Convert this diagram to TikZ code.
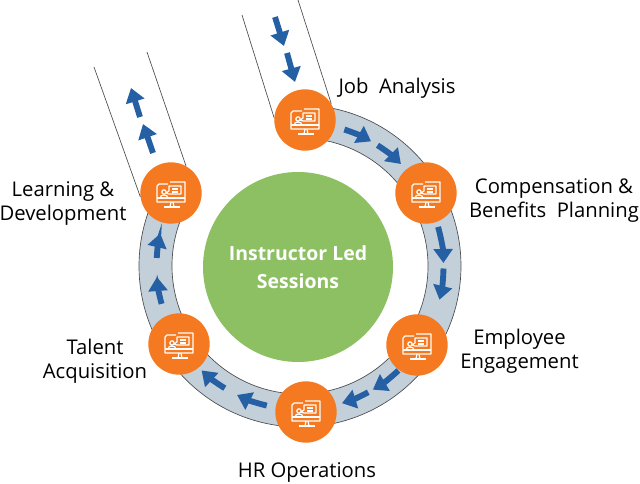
\documentclass[tikz,border=0pt]{standalone}
\usepackage{fontspec}
\setmainfont{Open Sans}
\usepackage{xcolor}
\usetikzlibrary{arrows.meta,calc,positioning}
\definecolor{ringgray}{HTML}{C3CFD9}
\definecolor{flowblue}{HTML}{2660A4}
\definecolor{stageorange}{HTML}{F47920}
\definecolor{hubgreen}{HTML}{8DC063}
\tikzset{
  stage/.style={circle,fill=stageorange,minimum size=46pt,inner sep=0pt},
  stagelabel/.style={align=center,font=\fontsize{15.2pt}{18pt}\selectfont,text=black},
  flowarrow/.style={draw=flowblue,line width=4.4pt,-{Triangle[length=10.5pt,width=14pt]}},
  railline/.style={draw=black!70,line width=0.5pt},
  pics/screenicon/.style={code={
      \begin{scope}[draw=white,line width=0.9pt,line join=round]
        \draw (-3,9) -- (-12,9) -- (-14,7) -- (-14,-9) -- (14,-9) -- (14,11) -- (-1,11);
        \draw (-14,-5) -- (14,-5);
        \draw (0,-9) -- (-1,-14) (2,-9) -- (3,-14);
        \draw (-7,-14) -- (9,-14);
        \draw (-7,1) circle (2.2);
        \draw (-11,-5) .. controls (-11,-1) and (-3,-1) .. (-3,-5);
        \draw[fill=stageorange] (-2,7) -- (-2,2) -- (-5,0) -- (-2,-1) -- (10,-1) -- (10,7) -- cycle;
        \draw (1,4) -- (7,4) (1,1) -- (7,1);
      \end{scope}
  }}
}
\begin{document}
\begin{tikzpicture}[x=0.75pt,y=0.75pt]
  \useasboundingbox (0,0) rectangle (640,483);
  \coordinate (hub) at (300,217);
  % ring
  \draw[fill=ringgray,draw=black!70,line width=0.5pt]
    ($(hub)+(88:161)$) arc (88:-209.5:161) -- ($(hub)+(-209.5:128)$) arc (-209.5:88:128) -- cycle;
  \node[circle,fill=hubgreen,minimum size=142.5pt,inner sep=0pt,text=white,align=center,
    font=\fontsize{14.6pt}{21pt}\selectfont\bfseries] (center) at (298,216) {Instructor Led\\Sessions};
  % stages
  \node[stage] (job) at (305,363) {};
  \node[stage] (comp) at (426,290) {};
  \node[stage] (engage) at (417,138) {};
  \node[stage] (hr) at (306,71) {};
  \node[stage] (talent) at (179,139) {};
  \node[stage] (learn) at (171,290) {};
  \foreach \n in {job,comp,engage,hr,talent,learn}
    \pic at (\n) {screenicon};
  % rails
  \coordinate (jobleft) at (242,468);
  \coordinate (jobright) at (298,483);
  \coordinate (learnleft) at (94,416);
  \coordinate (learnright) at (147,431);
  \draw[railline] (jobleft) -- (job.176);
  \draw[railline] (jobright) -- (job.32);
  \draw[railline] (learnleft) -- (learn.187);
  \draw[railline] (learnright) -- (learn.61);
  % straight arrows
  \draw[flowarrow] (275,466) -- (284,437);
  \draw[flowarrow] (287,430) -- (295,401);
  \draw[flowarrow] (140,366) -- (131,395);
  \draw[flowarrow] (153,330) -- (143,359);
  % arrows on the ring
  \foreach \from/\to in {72/60.3,57.3/45.3,15.8/1.2,-1/-13.6,-46.7/-59.5,-61.6/-73,-103.4/-116,-121.6/-133.3,-164.7/-175.6,-183.2/-193.1}
    \draw[flowarrow] ($(hub)+(\from:143.5)$) arc (\from:\to:143.5);
  % labels
  \node[stagelabel] (joblabel) at (397,395) {Job\ \ Analysis};
  \node[stagelabel] (complabel) at (554,282.5) {Compensation \&\\Benefits\ \ Planning};
  \node[stagelabel] (engagelabel) at (519.5,132) {Employee\\Engagement};
  \node[stagelabel] (hrlabel) at (307,11) {HR Operations};
  \node[stagelabel] (talentlabel) at (95,122) {Talent\\Acquisition};
  \node[stagelabel] (learnlabel) at (63,280) {Learning \&\\Development};
\end{tikzpicture}
\end{document}
